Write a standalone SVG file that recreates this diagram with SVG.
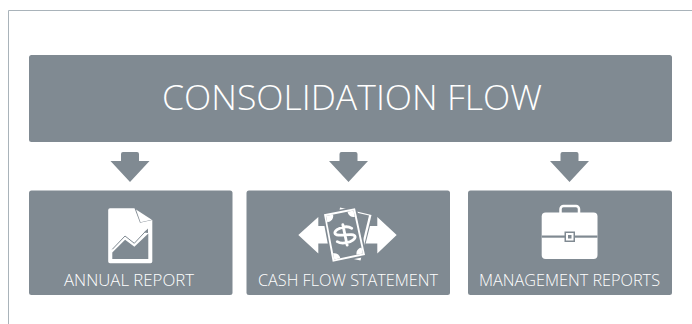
<svg xmlns="http://www.w3.org/2000/svg" width="692" height="324" viewBox="0 0 692 324">
<style>
.box{fill:#808a92}
.t{font-family:"Open Sans","Noto Sans",sans-serif;font-weight:300;fill:#fff;text-anchor:middle}
.s{font-size:16.300px}
.w{fill:#fff}
.g{fill:#808a92}
.arrow{fill:#808a92}
</style>
<rect width="692" height="324" fill="#fff"/>
<path d="M692 10.500H8.500V324" fill="none" stroke="#a9b3ba" stroke-width="1"/>
<g id="connectors">
<path class="arrow" d="M121 154a2 2 0 0 1 2-2h14a2 2 0 0 1 2 2v7h10.500l-19.500 21-19.500-21H121z"/>
<path class="arrow" d="M339.500 154a2 2 0 0 1 2-2h14a2 2 0 0 1 2 2v7h10.500l-19.500 21-19.500-21h10.500z"/>
<path class="arrow" d="M560.500 154a2 2 0 0 1 2-2h14a2 2 0 0 1 2 2v7h10.500l-19.500 21-19.500-21h10.500z"/>
</g>
<g id="main">
<rect class="box" x="29" y="55" width="643" height="87" rx="2.500"/>
<text class="t" x="352" y="109.500" font-size="34.500" textLength="380" lengthAdjust="spacingAndGlyphs">CONSOLIDATION FLOW</text>
</g>
<g id="annual">
<rect class="box" x="29" y="190.500" width="203.500" height="104.500" rx="2.500"/>
<path class="w" d="M110 208.300h24.500l5.500 14.400 12.300-2.700V261.500a1.800 1.800 0 0 1-1.800 1.800H110a1.800 1.800 0 0 1-1.800-1.800V210a1.800 1.800 0 0 1 1.800-1.700z"/>
<path class="w" d="M136 209.500l15.800 10.300-11.300 2.400z"/>
<path class="g" d="M112.300 259v-6.500l12.800-12.800 9.300 7 13.900-13.200V259z"/>
<path d="M112.300 249.300L125 236l9.300 7.300 12-12.800" fill="none" stroke="#808a92" stroke-width="1"/>
<path class="g" d="M148 228.500v4.500l-4-.5z"/>
<text class="t s" x="129" y="285.500" textLength="130" lengthAdjust="spacingAndGlyphs">ANNUAL REPORT</text>
</g>
<g id="cash">
<rect class="box" x="246.500" y="190.500" width="203.500" height="104.500" rx="2.500"/>
<path class="w" d="M298.300 235L318.300 217v9H330v17.500H318.300v10z"/>
<path class="w" d="M396.700 235L377.300 217v9H365v17.500h12.300v10z"/>
<path class="g" d="M338 206l35 8-12 48-30-7z"/>
<path class="w" d="M340 207.500l31.500 7.500-11 45.500-28-6z"/>
<path class="g" d="M345 210l24 5.500-10 41.500-22-5z"/>
<path class="g" d="M322 213L356.500 206.500 367 256.500 331.500 263.500z"/>
<path class="w" d="M324 214.300L355 208.300 365 255 332.700 261.700z"/>
<path class="g" d="M326 216L353.500 210.600 362.800 253.400 334.300 259.500z"/>
<path class="w" d="M326 216l7-1.400a6 6 0 0 1-5.700 7.600zM353.500 210.600l1.300 6.200a6 6 0 0 1-7.300-5zM362.800 253.400l-6.200 1.300a6 6 0 0 1 5-7.300zM334.300 259.500l-1.300-6.200a6 6 0 0 1 7.300 5z"/>
<g transform="rotate(-12 344.500 235)" fill="none" stroke-linecap="round">
<path d="M353 230c-2-2-4-3-8-3-5 0-9.500 1.800-9.500 4.300 0 5 19 2.400 19 7.400 0 2.500-4.500 4.300-9.500 4.300-4 0-7-1-9-3M345 224.500v21" stroke="#fff" stroke-width="2.800"/>
</g>
<text class="t s" x="348" y="285.500" textLength="180" lengthAdjust="spacingAndGlyphs">CASH FLOW STATEMENT</text>
</g>
<g id="management">
<rect class="box" x="468" y="190.500" width="204" height="104.500" rx="2.500"/>
<path d="M560.500 213v-4a3 3 0 0 1 3-3h12.500a3 3 0 0 1 3 3v4" fill="none" stroke="#fff" stroke-width="2.500"/>
<rect class="w" x="541.700" y="212.500" width="55.800" height="46.500" rx="4"/>
<rect class="g" x="541.700" y="235.500" width="55.800" height="2.200"/>
<rect class="g" x="564.500" y="231.500" width="10.500" height="10.500"/>
<rect class="w" x="566" y="233" width="7.500" height="7.500"/>
<rect class="g" x="568" y="235" width="3.500" height="3.500"/>
<text class="t s" x="569.500" y="285.500" textLength="181" lengthAdjust="spacingAndGlyphs">MANAGEMENT REPORTS</text>
</g>
</svg>
